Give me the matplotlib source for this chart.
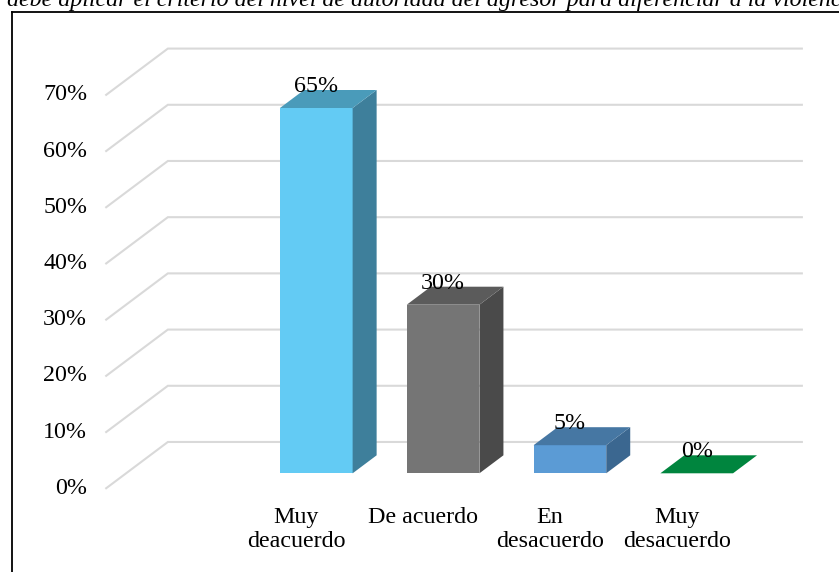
import matplotlib
matplotlib.use("Agg")
import matplotlib.pyplot as plt
from matplotlib.patches import Polygon, Rectangle
from matplotlib.lines import Line2D

# ---------------- data ----------------
categories = ["Muy\ndeacuerdo", "De acuerdo", "En\ndesacuerdo", "Muy\ndesacuerdo"]
values = [65, 30, 5, 0]
value_labels = ["65%", "30%", "5%", "0%"]
tick_values = [0, 10, 20, 30, 40, 50, 60, 70]
tick_labels = ["0%", "10%", "20%", "30%", "40%", "50%", "60%", "70%"]
title_text = ("se debe aplicar el criterio del nivel de autoridad del agresor "
              "para diferenciar a la violencia contra la mujer")

# ---------------- style ----------------
front_colors = ["#63CBF4", "#757575", "#5B9BD5", "#00853E"]
top_colors = ["#4A9BBA", "#5B5B5B", "#4677A3", "#00853E"]
side_colors = ["#3E7F9B", "#4A4A4A", "#3B6790", "#006B32"]
grid_color = "#D9D9D9"
FS = 17.3

plt.rcParams["font.family"] = ["Liberation Serif", "DejaVu Serif"]

W_PX, H_PX = 839, 572
fig = plt.figure(figsize=(W_PX / 100, H_PX / 100), dpi=100)
ax = fig.add_axes([0, 0, 1, 1])

# pixel scale of the front plane
PX_PER_CAT = 126.8
PX_PER_PCT = 5.62
X0_PX = 316.3      # pixel x of first category centre
Y0_PX = 473.3      # pixel y (from top) of 0 % on bar front plane
ax.set_xlim(-X0_PX / PX_PER_CAT, (W_PX - X0_PX) / PX_PER_CAT)
ax.set_ylim((Y0_PX - H_PX) / PX_PER_PCT, Y0_PX / PX_PER_PCT)
ax.axis("off")

# depth vector (per unit depth) in data units
DDX = 24 / PX_PER_CAT
DDY = 18 / PX_PER_PCT
D_WALL = 1.74
D_FRONT = -0.83
BAR_W = 0.573
n = len(categories)
x_left = -1.5
x_right = n - 0.5


def proj(x, v, d):
    return x + d * DDX, v + d * DDY


# back wall gridlines + floor diagonals
for tv, tl in zip(tick_values, tick_labels):
    xa, ya = proj(x_left, tv, D_WALL)
    xb, yb = proj(x_right, tv, D_WALL)
    xf, yf = proj(x_left, tv, D_FRONT)
    ax.plot([xf, xa, xb], [yf, ya, yb], color=grid_color, lw=1.5,
            solid_joinstyle="miter", zorder=1)
    ax.text(xf - 19 / PX_PER_CAT, yf, tl, ha="right", va="center",
            fontsize=FS, color="black")

# 3D bars
for i, (v, fc, tc, sc) in enumerate(zip(values, front_colors, top_colors, side_colors)):
    xl, xr = i - BAR_W / 2, i + BAR_W / 2
    top = [(xl, v), (xr, v), proj(xr, v, 1), proj(xl, v, 1)]
    if v > 0:
        ax.add_patch(Rectangle((xl, 0), BAR_W, v, facecolor=fc, edgecolor="none", zorder=3))
        side = [(xr, 0), (xr, v), proj(xr, v, 1), proj(xr, 0, 1)]
        ax.add_patch(Polygon(side, closed=True, facecolor=sc, edgecolor="none", zorder=3))
        ax.add_patch(Polygon(top, closed=True, facecolor=tc, edgecolor="none", zorder=3))
    else:
        ax.add_patch(Polygon(top, closed=True, facecolor=fc, edgecolor="none", zorder=3))

# value labels
for i, (v, lab) in enumerate(zip(values, value_labels)):
    ax.text(i, v + 0.88 * DDY, lab, ha="center", va="baseline",
            fontsize=FS, color="black", zorder=5)

# category labels
for i, cat in enumerate(categories):
    xf, yf = proj(i, 0, D_FRONT)
    ax.text(xf, yf - 19 / PX_PER_PCT, cat, ha="center", va="top",
            fontsize=FS, color="black", linespacing=1.15)

# outer border (partially outside the canvas)
bx = 12 / W_PX
by = 1 - 12 / H_PX
fig.add_artist(Line2D([bx, bx], [-0.1, by], transform=fig.transFigure,
                      color="black", lw=1.3))
fig.add_artist(Line2D([bx, 1.1], [by, by], transform=fig.transFigure,
                      color="black", lw=1.3))

# cut-off title at the very top
fig.text(-19 / W_PX, 1 - 6 / H_PX, title_text, ha="left", va="baseline",
         fontsize=FS, style="italic", color="black")

fig.savefig("out.png", dpi=100)
